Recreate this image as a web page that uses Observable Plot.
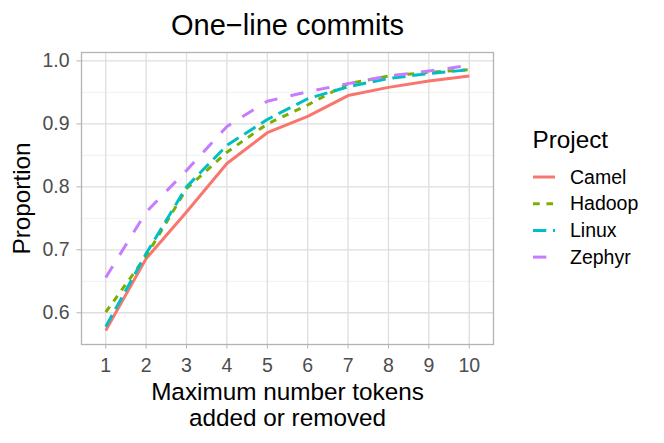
<!DOCTYPE html>
<html><head><meta charset="utf-8">
<script src="https://cdn.jsdelivr.net/npm/d3@7"></script>
<script src="https://cdn.jsdelivr.net/npm/@observablehq/plot@0.6"></script>
<style>body{margin:0;background:#fff;font-family:"Liberation Sans",Arial,sans-serif}</style>
</head><body><div id="chart"></div>
<script>
const tokens = [1, 2, 3, 4, 5, 6, 7, 8, 9, 10];
const camel  = [0.572, 0.686, 0.760, 0.837, 0.886, 0.912, 0.945, 0.958, 0.968, 0.976];
const hadoop = [0.601, 0.690, 0.797, 0.855, 0.900, 0.930, 0.964, 0.976, 0.982, 0.986];
const linux  = [0.578, 0.694, 0.800, 0.866, 0.907, 0.940, 0.959, 0.972, 0.980, 0.986];
const zephyr = [0.656, 0.760, 0.826, 0.896, 0.936, 0.951, 0.964, 0.976, 0.984, 0.993];
const projects = ["Camel", "Hadoop", "Linux", "Zephyr"];
const seriesValues = [camel, hadoop, linux, zephyr];
const colors = ["#F8766D", "#7CAE00", "#00BFC4", "#C77CFF"];
const dashes = ["none", "6.7,6.7", "13.3,6.7", "13.3,13.3"];
const yTicks = [0.6, 0.7, 0.8, 0.9, 1.0];
const yMinor = [0.65, 0.75, 0.85, 0.95];
const titleText = "One\u2212line commits";
const xTitle = "Maximum number tokens\nadded or removed";
const yTitle = "Proportion";
const legendTitle = "Project";

const rows = projects.map((p, i) => tokens.map((t, j) => ({project: p, x: t, y: seriesValues[i][j]})));

const chart = Plot.plot({
  width: 664, height: 443,
  marginLeft: 81, marginRight: 171, marginTop: 52, marginBottom: 99,
  style: {fontFamily: "'Liberation Sans', Arial, sans-serif", background: "white"},
  x: {domain: [0.4, 10.6]},
  y: {domain: [0.5496, 1.0134]},
  marks: [
    Plot.gridY(yMinor, {stroke: "#ececec", strokeOpacity: 1, strokeWidth: 0.8}),
    Plot.gridY(yTicks, {stroke: "#dedede", strokeOpacity: 1, strokeWidth: 1.3}),
    Plot.gridX(tokens, {stroke: "#dedede", strokeOpacity: 1, strokeWidth: 1.3}),
    Plot.frame({stroke: "#b3b3b3", strokeWidth: 1.3}),
    ...rows.map((r, i) => Plot.line(r, {x: "x", y: "y", stroke: colors[i], strokeWidth: 3,
      strokeDasharray: dashes[i], strokeLinecap: "butt", strokeLinejoin: "round"})),
    Plot.axisX({ticks: tokens, tickSize: 4.5, tickPadding: 8.8, stroke: "#b3b3b3", fill: "#4d4d4d",
      fontSize: 19.5, label: null, tickFormat: d => String(d)}),
    Plot.axisY({ticks: yTicks, tickSize: 4.5, tickPadding: 7.5, stroke: "#b3b3b3", fill: "#4d4d4d",
      fontSize: 19.5, label: null, tickFormat: d3.format(".1f")}),
    Plot.text([titleText], {text: d => d, frameAnchor: "top", lineAnchor: "bottom", dy: -18, fontSize: 29, fill: "black"}),
    Plot.text([xTitle], {text: d => d, frameAnchor: "bottom", lineAnchor: "top", dy: 37.8, lineHeight: 1.05, fontSize: 24.3, fill: "black"}),
    Plot.text([yTitle], {text: d => d, frameAnchor: "left", textAnchor: "middle", rotate: -90, dx: -59, fontSize: 24.3, fill: "black"})
  ]
});
document.getElementById("chart").appendChild(chart);

// legend
const svg = d3.select(chart);
const lg = svg.append("g").attr("font-family", "'Liberation Sans', Arial, sans-serif").attr("text-anchor", "start");
lg.append("text").attr("x", 532.5).attr("y", 148.3).attr("font-size", 24.3).attr("fill", "black").text(legendTitle);
projects.forEach((p, i) => {
  const cy = 177 + i * 26.7;
  lg.append("line").attr("x1", 533).attr("x2", 555).attr("y1", cy).attr("y2", cy)
    .attr("stroke", colors[i]).attr("stroke-width", 3).attr("stroke-dasharray", dashes[i]);
  lg.append("text").attr("x", 570).attr("y", cy).attr("dy", "0.34em").attr("font-size", 19.5)
    .attr("fill", "black").text(p);
});
</script>
</body></html>
